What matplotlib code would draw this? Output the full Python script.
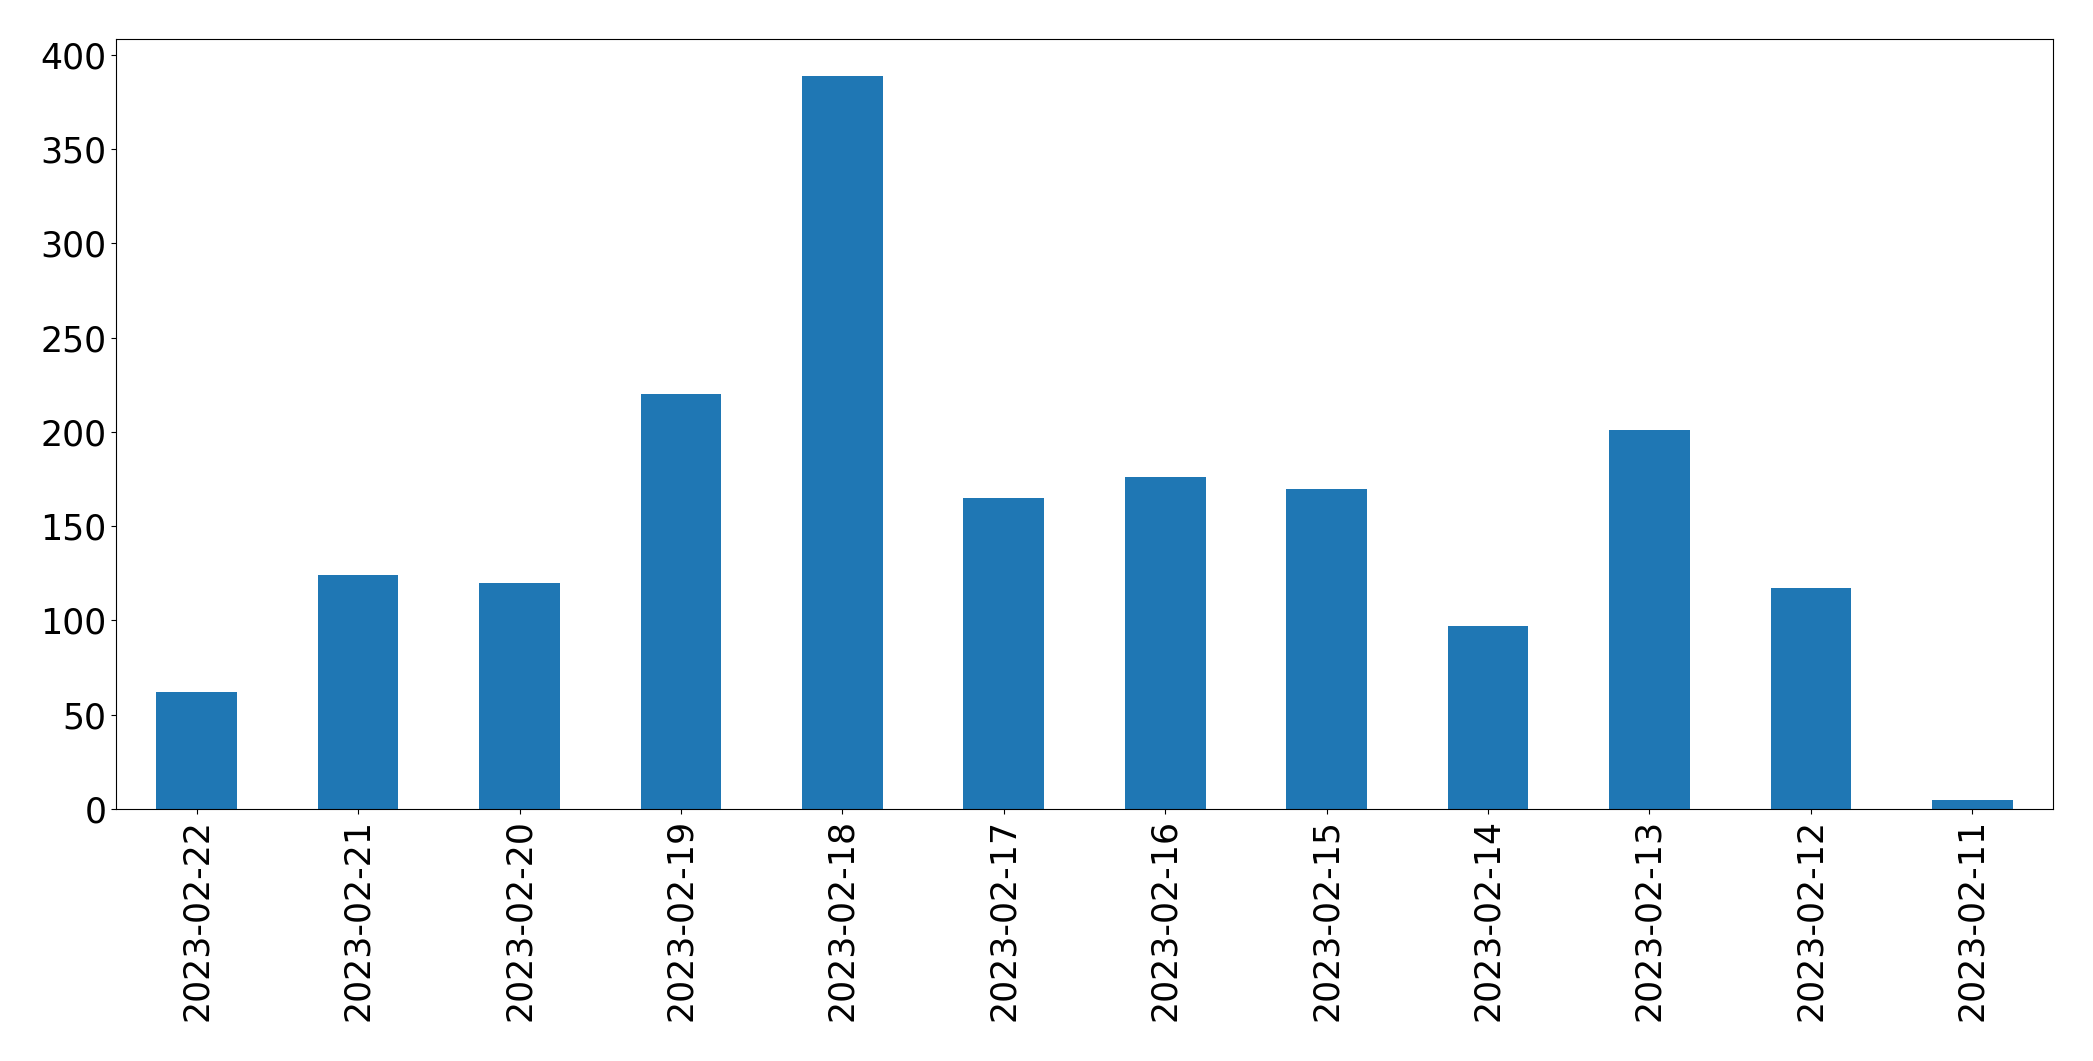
import matplotlib
matplotlib.use("Agg")
import matplotlib.pyplot as plt

dates = ["2023-02-22", "2023-02-21", "2023-02-20", "2023-02-19", "2023-02-18", "2023-02-17",
         "2023-02-16", "2023-02-15", "2023-02-14", "2023-02-13", "2023-02-12", "2023-02-11"]
counts = [62, 124, 120, 220, 389, 165, 176, 170, 97, 201, 117, 5]

fig = plt.figure(figsize=(20.93, 10.61), dpi=100)
# axes box in pixels: left 116, right 2053, top 39, bottom 809
ax = fig.add_axes([116 / 2093, 1 - 809 / 1061, (2053 - 116) / 2093, (809 - 39) / 1061])

x = range(len(dates))
ax.bar(x, counts, width=0.5, color="#1f77b4")
ax.set_xlim(-0.5, len(dates) - 0.5)
ax.set_ylim(0, max(counts) * 1.05)
ax.set_xticks(list(x))
ax.set_xticklabels(dates, rotation=90)
ax.tick_params(axis="both", labelsize=25)

fig.savefig("out.png", dpi=100)
